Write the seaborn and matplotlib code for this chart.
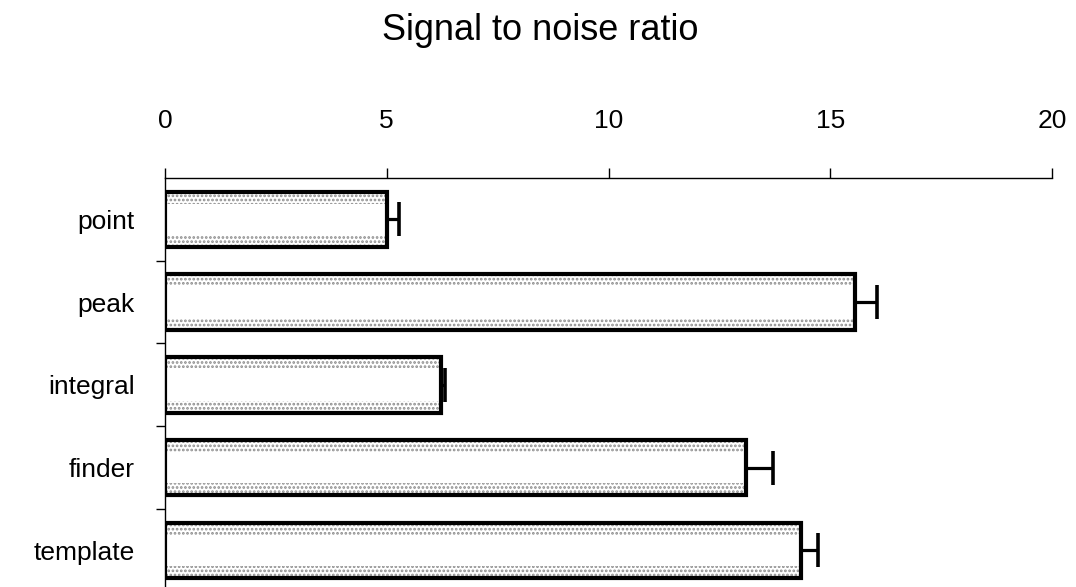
import numpy as np
import matplotlib
matplotlib.use("Agg")
import matplotlib.pyplot as plt
import seaborn as sns

# data
methods = ["point", "peak", "integral", "finder", "template"]
snr = [5.0, 15.55, 6.23, 13.1, 14.35]
snr_err = [0.28, 0.5, 0.08, 0.6, 0.37]
x_ticks = [0, 5, 10, 15, 20]

sns.set_style("white")
plt.rcParams['font.family'] = ['Liberation Sans', 'DejaVu Sans']
plt.rcParams['text.color'] = 'black'
plt.rcParams['hatch.linewidth'] = 1.3

fig = plt.figure(figsize=(10.76, 5.87), dpi=100)
ax = fig.add_axes([165 / 1076, -0.008, (1052 - 165) / 1076, 0.705])

# stippled fill, then white core, then black outline
sns.barplot(x=snr, y=methods, orient="h", width=0.67, color="white",
            edgecolor="#8c8c8c", linewidth=0, hatch="....", errorbar=None, ax=ax)
sns.barplot(x=snr, y=methods, orient="h", width=0.38, color="white",
            linewidth=0, errorbar=None, ax=ax)
sns.barplot(x=snr, y=methods, orient="h", width=0.67, facecolor="none",
            edgecolor="black", linewidth=3, errorbar=None, ax=ax)

pos = np.arange(len(methods))
ax.errorbar(snr, pos, xerr=[np.zeros(len(snr)), snr_err], fmt="none",
            ecolor="black", elinewidth=2.3, capsize=12, capthick=2.6, zorder=5)

ax.set_xlim(0, 20)
ax.set_ylim(4.5, -0.5)
ax.xaxis.tick_top()
ax.set_xticks(x_ticks)
ax.set_xticklabels([str(t) for t in x_ticks])
ax.tick_params(axis="x", direction="out", length=7, width=1, pad=25,
               labelsize=19, colors="black")

# category labels without ticks, small ticks between categories
ax.set_yticks(pos)
ax.set_yticklabels(methods)
ax.tick_params(axis="y", which="major", length=0, pad=22, labelsize=19,
               labelcolor="black")
ax.set_yticks(pos[:-1] + 0.5, minor=True)
ax.tick_params(axis="y", which="minor", direction="out", length=6.5, width=1,
               left=True, color="black")
ax.set_xlabel("")
ax.set_ylabel("")

for side in ["bottom", "right"]:
    ax.spines[side].set_visible(False)
for side in ["top", "left"]:
    ax.spines[side].set_color("black")
    ax.spines[side].set_linewidth(1)

fig.text(540 / 1076, 1 - 40 / 587, "Signal to noise ratio",
         ha="center", va="baseline", fontsize=26, color="black")

plt.savefig("out.png", dpi=100)
